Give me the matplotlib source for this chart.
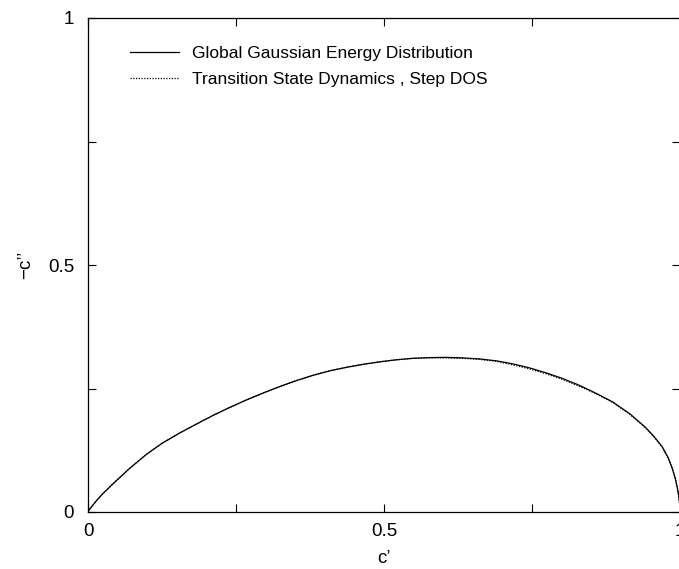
import matplotlib
matplotlib.use("Agg")
import matplotlib.pyplot as plt
from matplotlib.ticker import FixedLocator, FixedFormatter

plt.rcParams['font.family'] = ['Liberation Sans', 'DejaVu Sans']

# --- values (c', -c'') ---
c_real = [0.0, 0.003, 0.007, 0.015, 0.025, 0.043, 0.07, 0.099, 0.125, 0.155,
          0.18, 0.212, 0.24, 0.268, 0.296, 0.324, 0.352, 0.381, 0.409, 0.437,
          0.465, 0.493, 0.52, 0.548, 0.576, 0.604, 0.632, 0.660, 0.69, 0.717,
          0.745, 0.773, 0.80, 0.829, 0.857, 0.886, 0.915, 0.942, 0.956, 0.970,
          0.980, 0.987, 0.992, 0.995, 0.998, 0.9995, 1.0]
c_imag_global = [0.0, 0.006, 0.012, 0.024, 0.037, 0.058, 0.088, 0.117, 0.139, 0.160,
                 0.176, 0.196, 0.212, 0.227, 0.241, 0.254, 0.266, 0.277, 0.286, 0.293,
                 0.299, 0.304, 0.308, 0.311, 0.3125, 0.313, 0.312, 0.310, 0.306, 0.300,
                 0.292, 0.282, 0.271, 0.257, 0.241, 0.223, 0.199, 0.171, 0.153, 0.132,
                 0.110, 0.088, 0.068, 0.052, 0.032, 0.015, 0.0]
c_imag_tst = [0.0, 0.006, 0.012, 0.024, 0.037, 0.058, 0.088, 0.117, 0.139, 0.160,
              0.176, 0.196, 0.212, 0.227, 0.241, 0.254, 0.266, 0.277, 0.286, 0.293,
              0.299, 0.304, 0.308, 0.311, 0.312, 0.312, 0.311, 0.309, 0.305, 0.298,
              0.290, 0.280, 0.269, 0.255, 0.240, 0.222, 0.198, 0.170, 0.152, 0.131,
              0.109, 0.088, 0.068, 0.052, 0.032, 0.015, 0.0]

label_global = "Global Gaussian Energy Distribution"
label_tst = "Transition State Dynamics , Step DOS"

ticks = [0, 0.25, 0.5, 0.75, 1]
tick_labels = ["0", "", "0.5", "", "1"]

fig = plt.figure(figsize=(6.79, 5.69), dpi=100)
ax = fig.add_axes([88 / 679, 57 / 569, 592 / 679, 494 / 569])

ax.plot(c_real, c_imag_global, color='black', lw=0.9, label=label_global)
ax.plot(c_real, c_imag_tst, color='black', lw=0.9, linestyle=(0, (1, 1.2)),
        label=label_tst)

ax.set_xlim(0, 1)
ax.set_ylim(0, 1)
for axis in (ax.xaxis, ax.yaxis):
    axis.set_major_locator(FixedLocator(ticks))
    axis.set_major_formatter(FixedFormatter(tick_labels))
ax.tick_params(direction='in', length=6, width=0.8, top=True, right=True,
               labelsize=13.5, colors='black')
ax.tick_params(axis='y', pad=10)
ax.tick_params(axis='x', pad=8)
for sp in ax.spines.values():
    sp.set_linewidth(0.9)

ax.set_xlabel("c\u2019", fontsize=13.5, labelpad=7)
ax.set_ylabel("\u2212c\u2019\u2019", fontsize=13.5, labelpad=10)

ax.legend(loc='upper left', bbox_to_anchor=(42 / 592, 0.943), frameon=False,
          fontsize=12.5, handlelength=2.8, handletextpad=0.8, labelspacing=0.6,
          borderpad=0, borderaxespad=0)

fig.savefig("out.png", dpi=100)
